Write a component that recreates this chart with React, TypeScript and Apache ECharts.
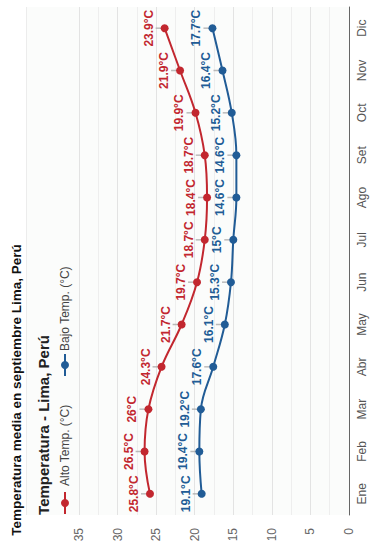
import React, { useEffect, useRef } from "react";
import * as echarts from "echarts";

const months = ["Ene", "Feb", "Mar", "Abr", "May", "Jun", "Jul", "Ago", "Set", "Oct", "Nov", "Dic"];
const highTemps = [25.8, 26.5, 26, 24.3, 21.7, 19.7, 18.7, 18.4, 18.7, 19.9, 21.9, 23.9];
const lowTemps = [19.1, 19.4, 19.2, 17.6, 16.1, 15.3, 15, 14.6, 14.6, 15.2, 16.4, 17.7];
const seriesNames = ["Alto Temp. (°C)", "Bajo Temp. (°C)"];
const pageTitle = "Temperatura media en septiembre Lima, Perú";
const chartTitle = "Temperatura - Lima, Perú";

const RED = "#c2272f";
const BLUE = "#215c96";
const FONT = '"Liberation Sans", Arial, sans-serif';

export default function App() {
  const ref = useRef<HTMLDivElement>(null);
  useEffect(() => {
    if (!ref.current) return;
    const chart = echarts.init(ref.current, undefined, { renderer: "svg" });
    const mk = (vals: number[]) => vals.map((v, i) => [v, months[i]]);
    const lineSeries = (name: string, vals: number[], color: string) => ({
      type: "line",
      name,
      data: mk(vals),
      smooth: 0.4,
      symbol: "circle",
      symbolSize: 8,
      lineStyle: { color, width: 2 },
      itemStyle: { color },
      z: 3,
      label: {
        show: true,
        position: "inside",
        rotate: 90,
        offset: [0, -16],
        formatter: (p: any) => `${p.value[0]}°C`,
        color,
        fontWeight: "bold",
        fontSize: 12,
        fontFamily: FONT,
      },
    });
    const leader = (vals: number[]) => ({
      type: "scatter",
      data: mk(vals),
      symbol: "rect",
      symbolSize: [8, 1.5],
      symbolOffset: [-5, 0],
      itemStyle: { color: "#aaaaaa" },
      silent: true,
      z: 1,
    });
    const legendItem = (cy: number, textY: number, color: string, text: string) => [
      {
        type: "line",
        shape: { x1: 65, y1: cy - 11, x2: 65, y2: cy + 11 },
        style: { stroke: color, lineWidth: 2 },
      },
      { type: "circle", shape: { cx: 65, cy, r: 4 }, style: { fill: color } },
      {
        type: "text",
        x: 65,
        y: textY,
        rotation: Math.PI / 2,
        style: {
          text,
          fontSize: 12,
          fontFamily: FONT,
          fill: "#444",
          align: "left",
          verticalAlign: "middle",
        },
      },
    ];
    chart.setOption({
      animation: false,
      grid: { left: 79, right: 21, top: 7, bottom: 35 },
      xAxis: {
        type: "value",
        min: 0,
        max: 35,
        interval: 5,
        inverse: true,
        axisLine: { show: false },
        axisTick: { show: false },
        axisLabel: { rotate: 90, color: "#666", fontSize: 12, fontFamily: FONT, margin: 13 },
        splitLine: { lineStyle: { color: "#e3e3e3" } },
        minorTick: { show: false, splitNumber: 2 },
        minorSplitLine: { show: true, lineStyle: { color: "#eeeeee" } },
      },
      yAxis: {
        type: "category",
        data: months,
        position: "right",
        axisLine: { lineStyle: { color: "#666", width: 1 } },
        axisTick: { show: false },
        axisLabel: { rotate: 90, color: "#555", fontSize: 12, fontFamily: FONT, margin: 7 },
        splitLine: { show: false },
      },
      series: [
        leader(highTemps),
        leader(lowTemps),
        lineSeries(seriesNames[0], highTemps, RED),
        lineSeries(seriesNames[1], lowTemps, BLUE),
      ],
      graphic: [
        {
          type: "rect",
          z: -10,
          silent: true,
          shape: { x: 26, y: 7, width: 323, height: 508 },
          style: { fill: "#fbfcfb" },
        },
        {
          type: "line",
          z: -9,
          silent: true,
          shape: { x1: 26.5, y1: 7, x2: 26.5, y2: 515 },
          style: { stroke: "#ececec", lineWidth: 1 },
        },
        {
          type: "text",
          x: 16,
          y: 390,
          rotation: Math.PI / 2,
          style: {
            text: pageTitle,
            fontSize: 13.5,
            fontWeight: "bold",
            fontFamily: FONT,
            fill: "#111",
            align: "center",
            verticalAlign: "middle",
          },
        },
        {
          type: "text",
          x: 43,
          y: 425,
          rotation: Math.PI / 2,
          style: {
            text: chartTitle,
            fontSize: 15,
            fontWeight: "bold",
            fontFamily: FONT,
            fill: "#222",
            align: "center",
            verticalAlign: "middle",
          },
        },
        ...legendItem(503, 486, RED, seriesNames[0]),
        ...legendItem(365, 351, BLUE, seriesNames[1]),
      ],
    });
    return () => chart.dispose();
  }, []);
  return <div ref={ref} style={{ width: 370, height: 550, position: "absolute", left: 0, top: 0 }} />;
}
